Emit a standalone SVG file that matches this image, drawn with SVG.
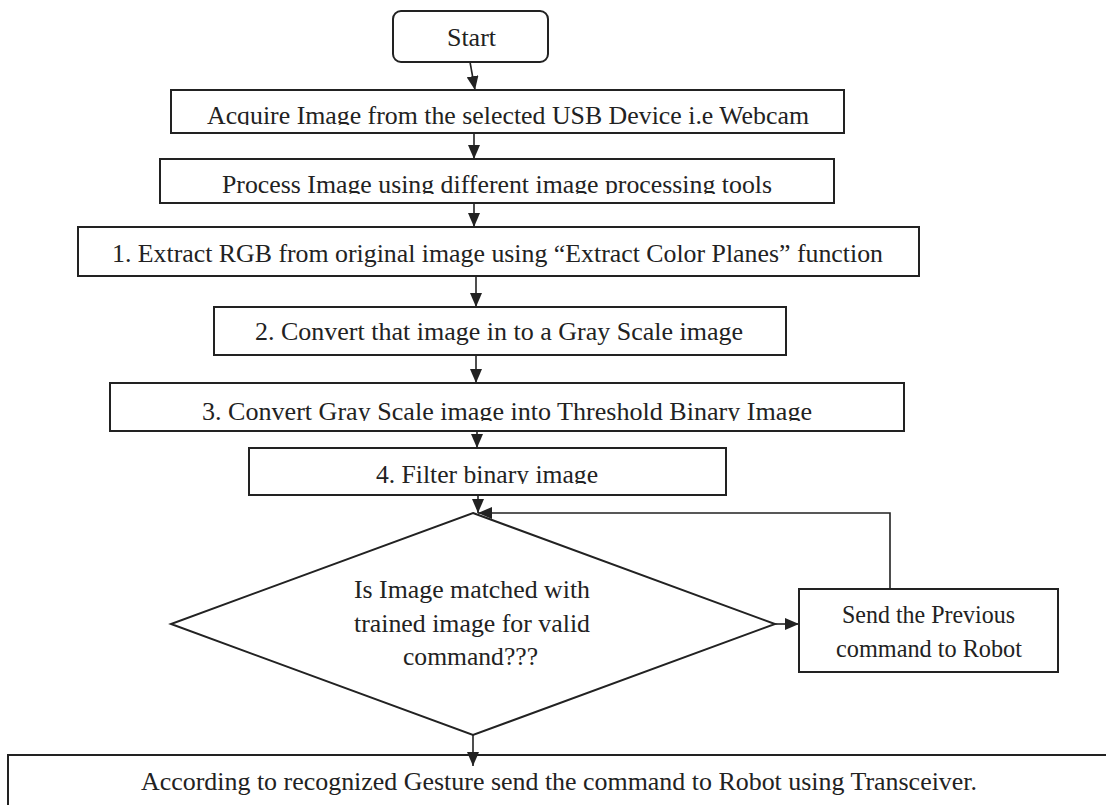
<svg xmlns="http://www.w3.org/2000/svg" width="1106" height="805" viewBox="0 0 1106 805">
<style>
.box{fill:#fff;stroke:#222;stroke-width:2}
.t{font-family:"Liberation Serif","Times New Roman",serif;font-size:26px;fill:#222}
.c{stroke:#222;stroke-width:1.6;fill:none}
</style>
<defs>
<marker id="ah" viewBox="0 0 14 12" refX="14" refY="6" markerWidth="14" markerHeight="12" markerUnits="userSpaceOnUse" orient="auto">
<path d="M0,0 L14,6 L0,12 Z" fill="#222"/>
</marker>
<clipPath id="c1"><rect x="160" y="90" width="700" height="35"/></clipPath>
<clipPath id="c2"><rect x="150" y="160" width="700" height="34"/></clipPath>
<clipPath id="c5"><rect x="100" y="384" width="820" height="37"/></clipPath>
<clipPath id="c6"><rect x="240" y="449" width="500" height="35"/></clipPath>
</defs>
<g id="connectors">
<line class="c" x1="470" y1="62" x2="475" y2="90" marker-end="url(#ah)"/>
<line class="c" x1="474" y1="133" x2="474" y2="159" marker-end="url(#ah)"/>
<line class="c" x1="474" y1="203" x2="474" y2="227" marker-end="url(#ah)"/>
<line class="c" x1="476" y1="276" x2="476" y2="307" marker-end="url(#ah)"/>
<line class="c" x1="476" y1="355" x2="476" y2="383" marker-end="url(#ah)"/>
</g>
<g id="start">
<rect class="box" x="393" y="11" width="155" height="51" rx="8"/>
<text class="t" x="471.5" y="46" text-anchor="middle">Start</text>
</g>
<g id="acquire">
<rect class="box" x="171" y="90" width="673" height="43"/>
<text class="t" x="207" y="124" textLength="602" lengthAdjust="spacingAndGlyphs" clip-path="url(#c1)">Acquire Image from the selected USB Device i.e Webcam</text>
</g>
<g id="process">
<rect class="box" x="160" y="159" width="674" height="44"/>
<text class="t" x="222" y="193" textLength="550" lengthAdjust="spacingAndGlyphs" clip-path="url(#c2)">Process Image using different image processing tools</text>
</g>
<g id="extract">
<rect class="box" x="78" y="227" width="841" height="49"/>
<text class="t" x="112" y="262" textLength="771" lengthAdjust="spacingAndGlyphs">1. Extract RGB from original image using “Extract Color Planes” function</text>
</g>
<g id="gray">
<rect class="box" x="214" y="307" width="572" height="48"/>
<text class="t" x="255" y="340" textLength="488" lengthAdjust="spacingAndGlyphs">2. Convert that image in to a Gray Scale image</text>
</g>
<g id="threshold">
<rect class="box" x="110" y="383" width="794" height="48"/>
<text class="t" x="202" y="420" textLength="610" lengthAdjust="spacingAndGlyphs" clip-path="url(#c5)">3. Convert Gray Scale image into Threshold Binary Image</text>
</g>
<g id="filter">
<rect class="box" x="249" y="448" width="477" height="47"/>
<text class="t" x="376" y="483" textLength="222" lengthAdjust="spacingAndGlyphs" clip-path="url(#c6)">4. Filter binary image</text>
</g>
<g id="decision">
<polygon class="box" points="473,513 775,624 473,735 171,624"/>
<text class="t" x="354" y="598" textLength="236" lengthAdjust="spacingAndGlyphs">Is Image matched with</text>
<text class="t" x="354" y="632" textLength="236" lengthAdjust="spacingAndGlyphs">trained image for valid</text>
<text class="t" x="403" y="665" textLength="135" lengthAdjust="spacingAndGlyphs">command???</text>
</g>
<g id="previous">
<rect class="box" x="799" y="589" width="259" height="83"/>
<text class="t" x="842" y="623" textLength="173" lengthAdjust="spacingAndGlyphs">Send the Previous</text>
<text class="t" x="836" y="657" textLength="186" lengthAdjust="spacingAndGlyphs">command to Robot</text>
</g>
<g id="send">
<rect class="box" x="8" y="755" width="1110" height="60"/>
<text class="t" x="141" y="790" textLength="836" lengthAdjust="spacingAndGlyphs">According to recognized Gesture send the command to Robot using Transceiver.</text>
</g>
<g id="connectors2">
<line class="c" x1="477" y1="431" x2="477" y2="448" marker-end="url(#ah)"/>
<line class="c" x1="478" y1="495" x2="478" y2="513" marker-end="url(#ah)"/>
<polyline class="c" points="890,589 890,513 478,513" marker-end="url(#ah)"/>
<line class="c" x1="775" y1="624" x2="799" y2="624" marker-end="url(#ah)"/>
<line class="c" x1="473" y1="735" x2="473" y2="766" marker-end="url(#ah)"/>
</g>
</svg>
